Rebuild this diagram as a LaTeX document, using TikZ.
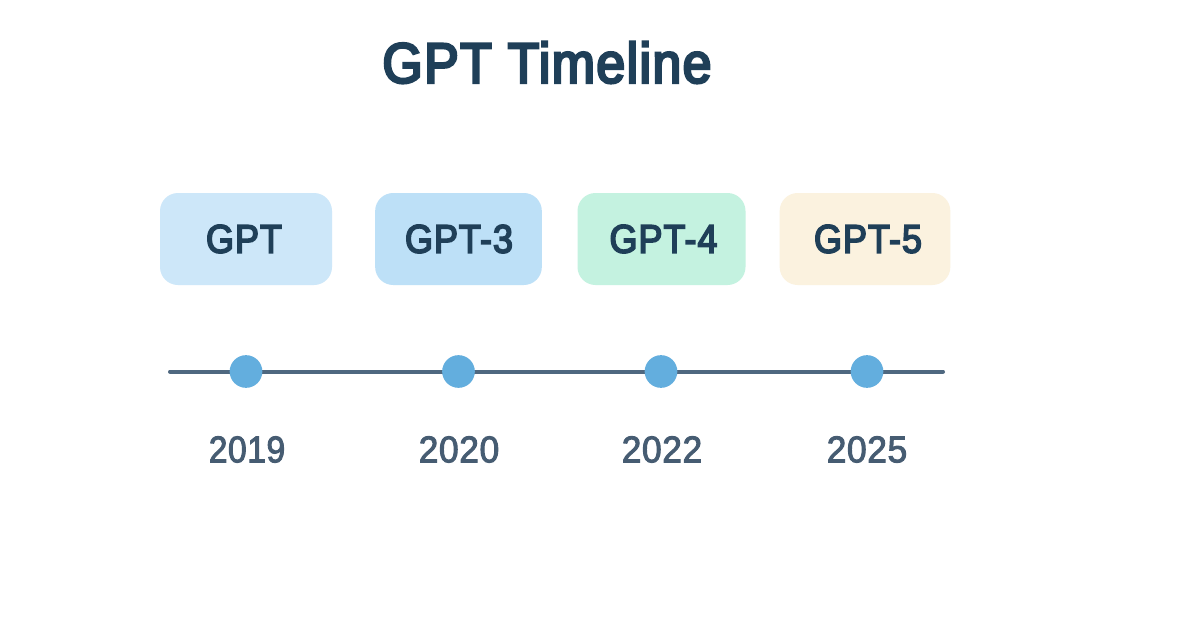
\documentclass[tikz,border=0pt]{standalone}
\usepackage{fontspec}
\setmainfont{Liberation Sans}
\newfontfamily\cardfont[FakeStretch=0.90,FakeBold=4,LetterSpace=2.5]{Liberation Sans}
\newfontfamily\titlefont[FakeStretch=0.915,FakeBold=4.5,LetterSpace=2.5]{Liberation Sans}
\newfontfamily\yearfont[FakeStretch=0.95,FakeBold=2.5,LetterSpace=1.5]{Liberation Sans}
\newfontfamily\yearnarrowfont[FakeStretch=0.90,FakeBold=2.5,LetterSpace=1.5]{Liberation Sans}
\definecolor{titlec}{HTML}{1F3F58}
\definecolor{yearc}{HTML}{465C72}
\definecolor{linec}{HTML}{4F6880}
\definecolor{dotc}{HTML}{63AEDE}
\definecolor{boxa}{HTML}{CDE7F9}
\definecolor{boxb}{HTML}{BDE0F7}
\definecolor{boxc}{HTML}{C4F2E0}
\definecolor{boxd}{HTML}{FBF2DF}
\tikzset{
 card/.style={rounded corners=13.5pt,minimum height=69pt,inner sep=0pt},
 cardtext/.style={text=titlec,font=\cardfont\fontsize{30pt}{34pt}\selectfont,inner sep=0pt},
 dot/.style={circle,fill=dotc,minimum size=24.5pt,inner sep=0pt},
 yearlabel/.style={text=yearc,font=\yearfont\fontsize{28pt}{32pt}\selectfont,inner sep=0pt},
 yearnarrow/.style={text=yearc,font=\yearnarrowfont\fontsize{28pt}{32pt}\selectfont,inner sep=0pt}
}
\begin{document}
\begin{tikzpicture}[x=0.75pt,y=-0.75pt]
\useasboundingbox[fill=white] (0,0) rectangle (1200,628);
\node[text=titlec,font=\titlefont\fontsize{42.5pt}{48pt}\selectfont,inner sep=0pt] (title) at (547,62.5) {GPT Timeline};
\node[card,fill=boxa,minimum width=129pt] (c1) at (246,239) {};
\node[card,fill=boxb,minimum width=125pt] (c2) at (458.5,239) {};
\node[card,fill=boxc,minimum width=126pt] (c3) at (661.5,239) {};
\node[card,fill=boxd,minimum width=128pt] (c4) at (865,239) {};
\node[cardtext] (t1) at (244,239) {GPT};
\node[cardtext] (t2) at (459,239) {GPT-3};
\node[cardtext] (t3) at (663.5,239) {GPT-4};
\node[cardtext] (t4) at (868,239) {GPT-5};
\coordinate (ls) at (170,371.5);
\coordinate (le) at (943,371.5);
\draw[linec,line width=3pt,line cap=round] (ls) -- (le);
\node[dot] (d1) at (246,371.5) {};
\node[dot] (d2) at (458.5,371.5) {};
\node[dot] (d3) at (661,371.5) {};
\node[dot] (d4) at (867,371.5) {};
\node[yearnarrow] (y1) at (247,449.5) {2019};
\node[yearlabel] (y2) at (459,449.5) {2020};
\node[yearlabel] (y3) at (662,449.5) {2022};
\node[yearlabel] (y4) at (867,449.5) {2025};
\end{tikzpicture}
\end{document}
